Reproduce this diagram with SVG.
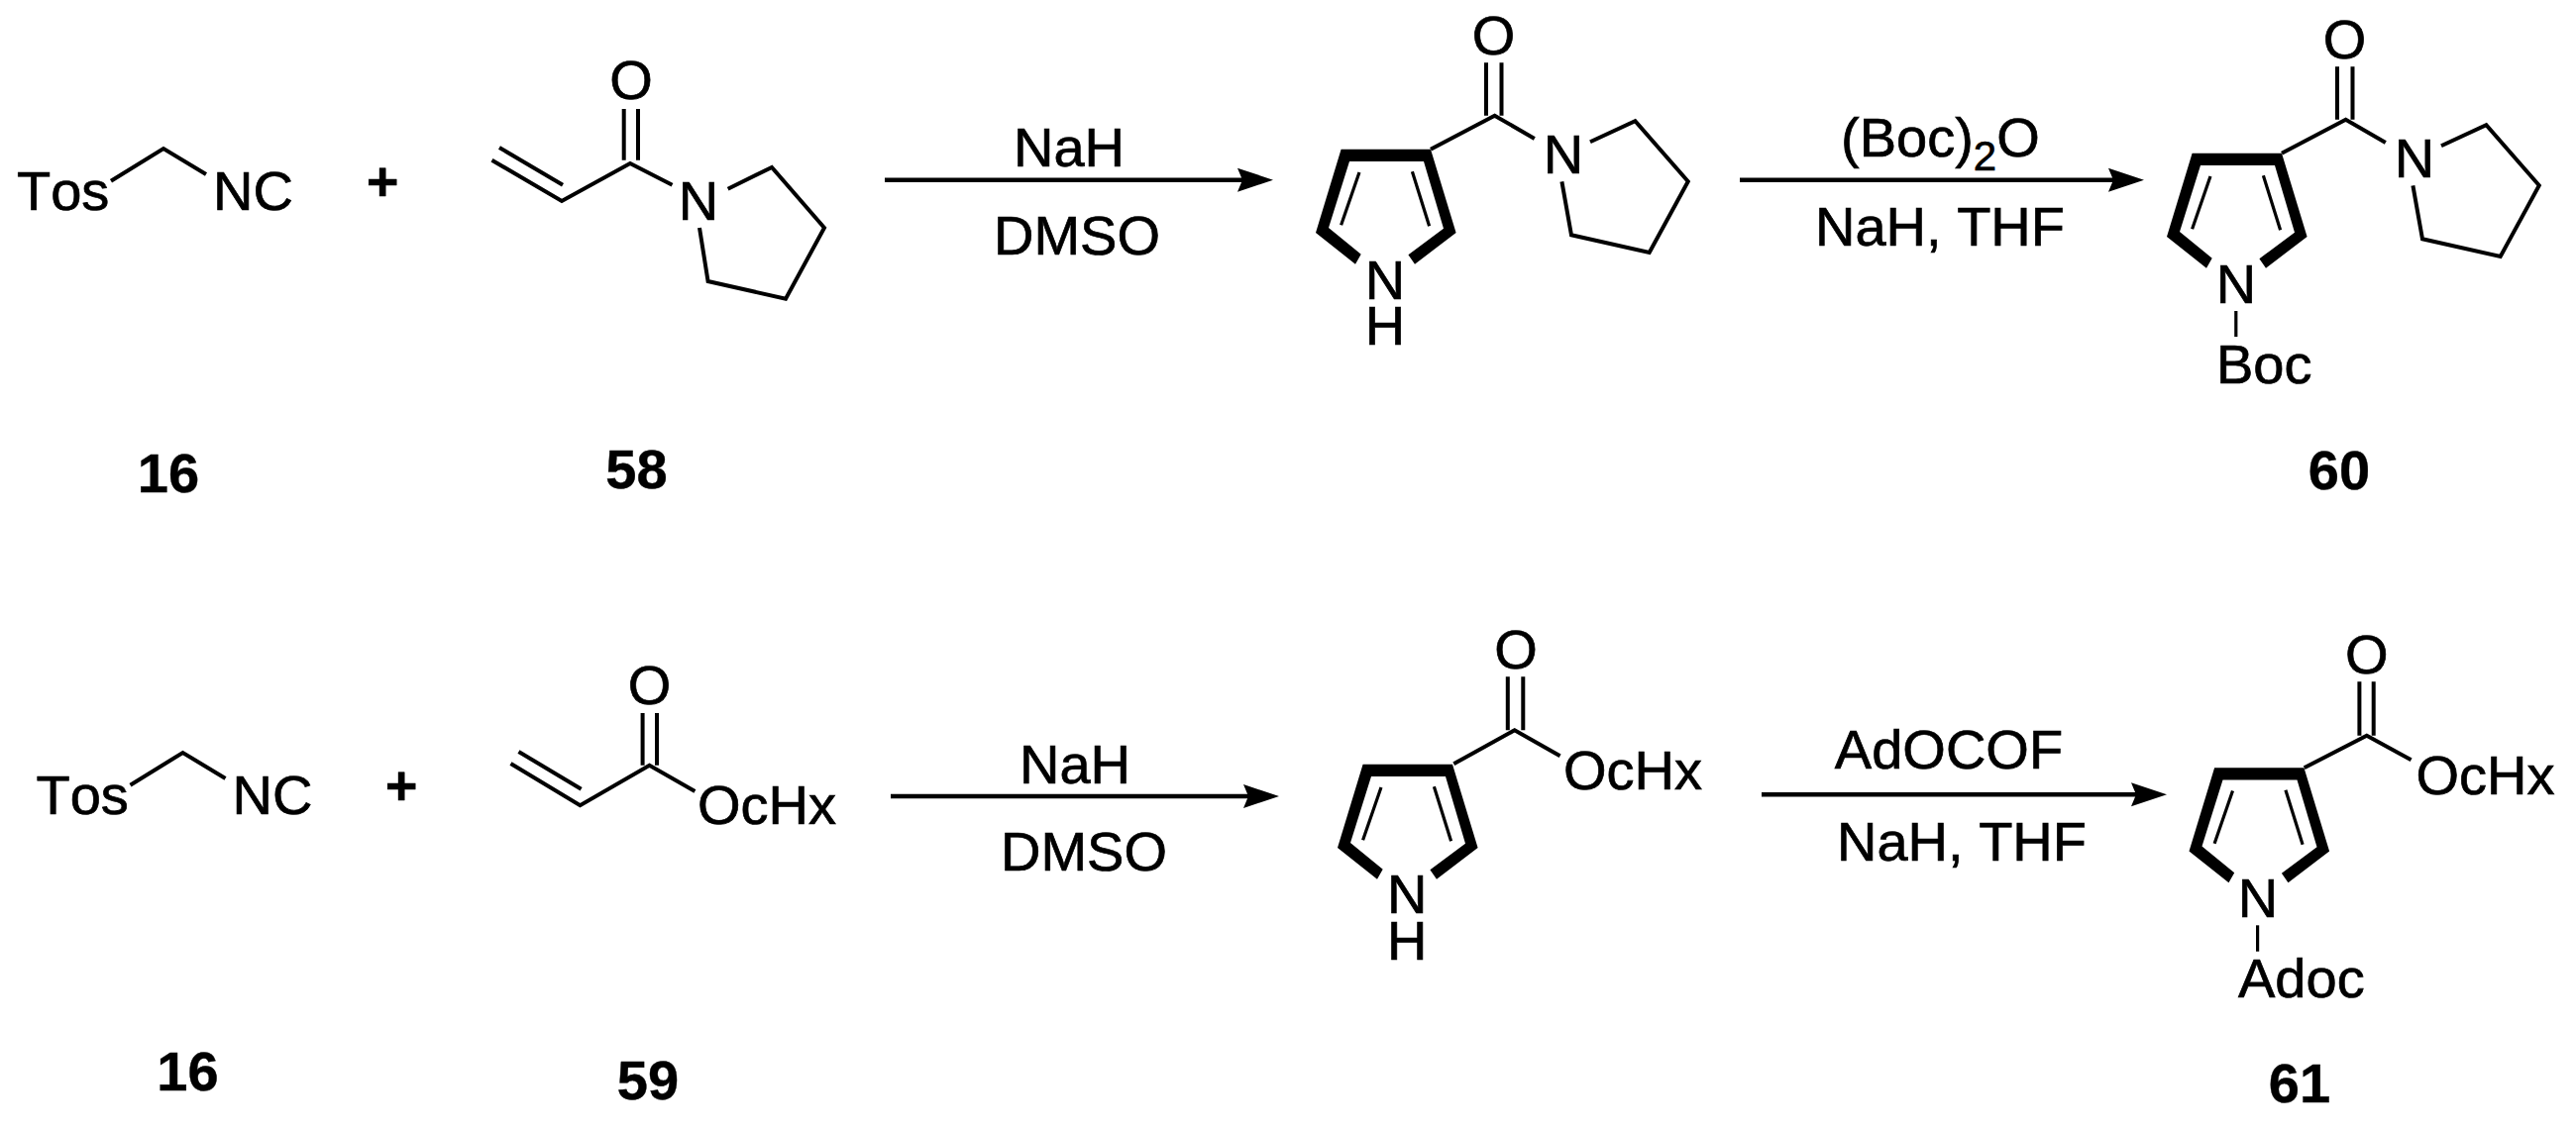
<svg xmlns="http://www.w3.org/2000/svg" width="2600" height="1143" viewBox="0 0 2600 1143">
<style>
text{font-family:"Liberation Sans",Arial,sans-serif;font-size:56px;fill:#000;font-kerning:none;stroke:#000;stroke-width:0.7}
.b{font-weight:bold;stroke-width:0.4}
.m{text-anchor:middle}
.bond{fill:none;stroke:#000;stroke-width:4;stroke-linejoin:miter;stroke-linecap:butt}
.thin{fill:none;stroke:#000;stroke-width:3.2}
.arrow{fill:none;stroke:#000;stroke-width:4.5;marker-end:url(#head)}
</style>
<defs>
<marker id="head" markerUnits="userSpaceOnUse" markerWidth="40" markerHeight="26" refX="5" refY="12" orient="auto" overflow="visible">
<polygon points="0,0 36,12 0,24 5,12" fill="#000"/>
</marker>
<g id="ring">
<polygon fill="#000" points="1353.6,150.7 1444,150.7 1469.6,235 1428,266.7 1421.4,257.3 1457,230.7 1437,163 1362,163 1341,230 1373.7,256.7 1368,266.7 1328,235"/>
<path class="thin" d="M1372,174L1353.6,227.3M1425.4,173.3L1442.6,228.3"/>
</g>
<g id="tosmic">
<path class="bond" d="M112,182.7L165,150L208,176"/>
<text x="17" y="212">Tos</text>
<text x="215" y="212">NC</text>
</g>
</defs>
<rect width="2600" height="1143" fill="#fff"/>

<g id="connectors">
<path class="arrow" d="M893,181.7H1254"/>
<path class="arrow" d="M1756,181.7H2133"/>
<path class="arrow" d="M899,804H1260"/>
<path class="arrow" d="M1778,802.3H2156"/>
</g>

<g id="node-16-top">
<use href="#tosmic"/>
<text class="b m" x="170" y="497">16</text>
</g>
<text id="plus-top" class="b m" x="386" y="202">+</text>
<g id="node-58">
<path class="bond" d="M496.5,161.7L567,203L636,165L678.5,186.7"/>
<path class="bond" d="M504,149L568,186.7"/>
<path class="bond" d="M629.7,110V161.7M644,110V161.7"/>
<path class="bond" d="M734.7,190.7L779,169L832,230L793,301.7L714.6,284L706,230"/>
<text class="m" x="637" y="100">O</text>
<text class="m" x="705" y="222">N</text>
<text class="b m" x="642.5" y="493">58</text>
</g>
<g id="reagents-1">
<text class="m" x="1079" y="168">NaH</text>
<text class="m" x="1087" y="257">DMSO</text>
</g>
<g id="node-pyrrole-amide">
<use href="#ring"/>
<path class="bond" d="M1444,150.7L1508.6,116.7L1548.8,140"/>
<path class="bond" d="M1500,63.3V116.7M1515.5,63.3V116.7"/>
<path class="bond" d="M1605,143.3L1650.4,122.3L1703.8,183.3L1664.7,255L1586,237.3L1576.4,183.3"/>
<text class="m" x="1507.5" y="55">O</text>
<text class="m" x="1578" y="175">N</text>
<text class="m" x="1398" y="301.7">N</text>
<text class="m" x="1398" y="348">H</text>
</g>
<g id="reagents-2">
<text x="1858" y="158.3">(Boc)<tspan dy="14" font-size="42">2</tspan><tspan dy="-14">O</tspan></text>
<text class="m" x="1958" y="248.3">NaH, THF</text>
</g>
<g id="node-60">
<use href="#ring" x="859" y="4"/>
<path class="bond" d="M2303,154.7L2367.6,120.7L2407.8,144"/>
<path class="bond" d="M2359,67.3V120.7M2374.5,67.3V120.7"/>
<path class="bond" d="M2464,147.3L2509.4,126.3L2562.8,187.3L2523.7,259L2445,241.3L2435.4,187.3"/>
<path class="thin" d="M2256.8,314V340"/>
<text class="m" x="2366.5" y="59">O</text>
<text class="m" x="2437" y="179">N</text>
<text class="m" x="2257" y="305.5">N</text>
<text x="2237" y="386.7">Boc</text>
<text class="b m" x="2361" y="494">60</text>
</g>

<g id="node-16-bottom">
<use href="#tosmic" x="19.5" y="610"/>
<text class="b m" x="189.5" y="1100.7">16</text>
</g>
<text id="plus-bottom" class="b m" x="405" y="812">+</text>
<g id="node-59">
<path class="bond" d="M515.5,771L585.5,813.3L655.5,772.7L701.4,799"/>
<path class="bond" d="M523.5,759L586.6,796.7"/>
<path class="bond" d="M648.6,720V772.7M663,720V772.7"/>
<text class="m" x="655.5" y="710.7">O</text>
<text x="704" y="832.3">OcHx</text>
<text class="b m" x="654" y="1110">59</text>
</g>
<g id="reagents-3">
<text class="m" x="1085" y="790.7">NaH</text>
<text class="m" x="1094" y="879.3">DMSO</text>
</g>
<g id="node-pyrrole-ester">
<use href="#ring" x="22" y="621"/>
<path class="bond" d="M1467.3,771.3L1528.7,737.3L1574.6,763.3"/>
<path class="bond" d="M1521.8,683.3V737.3M1537.3,683.3V737.3"/>
<text class="m" x="1530" y="675">O</text>
<text x="1578" y="796.7">OcHx</text>
<text class="m" x="1420.3" y="922">N</text>
<text class="m" x="1420.3" y="969">H</text>
</g>
<g id="reagents-4">
<text class="m" x="1967" y="775.7">AdOCOF</text>
<text class="m" x="1980" y="869.3">NaH, THF</text>
</g>
<g id="node-61">
<use href="#ring" x="881.5" y="624.5"/>
<path class="bond" d="M2325.7,775.3L2388.8,742.7L2433.6,767.3"/>
<path class="bond" d="M2381.4,688.3V742.7M2395.7,688.3V742.7"/>
<path class="thin" d="M2278.6,934.3V960.7"/>
<text class="m" x="2388.8" y="680">O</text>
<text x="2438.5" y="801.7">OcHx</text>
<text class="m" x="2279" y="926">N</text>
<text x="2259" y="1007.3">Adoc</text>
<text class="b m" x="2321" y="1112.7">61</text>
</g>
</svg>
